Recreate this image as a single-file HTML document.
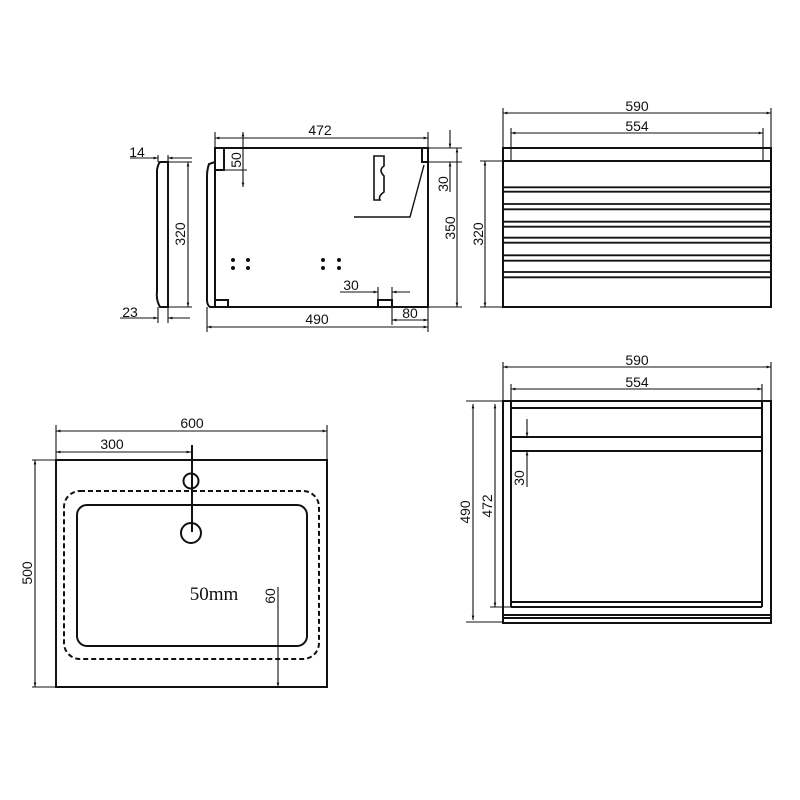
<!DOCTYPE html>
<html><head><meta charset="utf-8"><style>
html,body{margin:0;padding:0;background:#fff}
svg{display:block}
text{font-family:"Liberation Sans",sans-serif;font-size:14px;fill:#111}
</style></head><body>
<svg width="800" height="800" viewBox="0 0 800 800" xmlns="http://www.w3.org/2000/svg">
<defs>
<marker id="a" viewBox="0 0 10 10" refX="10" refY="5" markerWidth="6" markerHeight="4" orient="auto-start-reverse"><path d="M0,2 L10,5 L0,8 z" fill="#111"/></marker>
</defs>
<g stroke="#111" fill="none" stroke-width="2">
<path d="M168,162 L168,307 L160,307 Q156,300 157,292 L157,170 Q158,164 160,162 Z"/>
<g stroke-width="1.1">
<line x1="158" y1="162" x2="192" y2="162"/>
<line x1="168" y1="307" x2="192" y2="307"/>
<line x1="188" y1="162" x2="188" y2="307" marker-start="url(#a)" marker-end="url(#a)"/>
<line x1="130" y1="158" x2="158" y2="158" marker-end="url(#a)"/>
<line x1="168" y1="158" x2="192" y2="158" marker-start="url(#a)"/>
<line x1="158" y1="155" x2="158" y2="162"/><line x1="168" y1="155" x2="168" y2="162"/>
<line x1="120" y1="318" x2="158" y2="318" marker-end="url(#a)"/>
<line x1="168" y1="318" x2="190" y2="318" marker-start="url(#a)"/>
<line x1="158" y1="307" x2="158" y2="323"/><line x1="168" y1="307" x2="168" y2="323"/>
</g>

<rect x="215" y="148" width="213" height="159"/>
<path d="M215,162 L209,164 Q207,170 207,176 L207,300 Q207,305 210,307 L215,307"/>
<rect x="215" y="148" width="9" height="22"/>
<rect x="422" y="148" width="6" height="14"/>
<rect x="215" y="300" width="13" height="7"/>
<rect x="378" y="300" width="14" height="7"/>
<path d="M374,156 L384,156 L384,166 Q378,170 384,176 L384,192 Q378,196 380,200 L374,200 Z" stroke-width="1.6"/>
<polyline points="424,165 410,217 354,217" stroke-width="1.4"/>
<g stroke-width="1.1">
<line x1="215" y1="138" x2="428" y2="138" marker-start="url(#a)" marker-end="url(#a)"/>
<line x1="215" y1="132" x2="215" y2="148"/><line x1="428" y1="132" x2="428" y2="148"/>
<line x1="243" y1="132" x2="243" y2="187" marker-start="url(#a)" marker-end="url(#a)"/>
<line x1="224" y1="170" x2="247" y2="170"/>
<line x1="428" y1="162" x2="462" y2="162"/>
<line x1="428" y1="148" x2="462" y2="148"/>
<line x1="428" y1="307" x2="462" y2="307"/>
<line x1="450" y1="130" x2="450" y2="148" marker-end="url(#a)"/>
<line x1="450" y1="162" x2="450" y2="192" marker-start="url(#a)"/>
<line x1="457" y1="148" x2="457" y2="307" marker-start="url(#a)" marker-end="url(#a)"/>
<line x1="340" y1="292" x2="378" y2="292" marker-end="url(#a)"/>
<line x1="392" y1="292" x2="410" y2="292" marker-start="url(#a)"/>
<line x1="378" y1="287" x2="378" y2="300"/><line x1="392" y1="287" x2="392" y2="300"/>
<line x1="207" y1="307" x2="207" y2="332"/><line x1="428" y1="307" x2="428" y2="332"/>
<line x1="392" y1="307" x2="392" y2="325"/>
<line x1="207" y1="327" x2="428" y2="327" marker-start="url(#a)" marker-end="url(#a)"/>
<line x1="392" y1="320" x2="428" y2="320" marker-start="url(#a)" marker-end="url(#a)"/>
</g>

<rect x="503" y="148" width="268" height="13"/>
<rect x="503" y="161" width="268" height="146"/>
<g stroke-width="1.8">
<line x1="503" y1="187.3" x2="771" y2="187.3"/><line x1="503" y1="191.7" x2="771" y2="191.7"/>
<line x1="503" y1="204" x2="771" y2="204"/><line x1="503" y1="209.3" x2="771" y2="209.3"/>
<line x1="503" y1="221.7" x2="771" y2="221.7"/><line x1="503" y1="226.7" x2="771" y2="226.7"/>
<line x1="503" y1="237.7" x2="771" y2="237.7"/><line x1="503" y1="242.7" x2="771" y2="242.7"/>
<line x1="503" y1="255.3" x2="771" y2="255.3"/><line x1="503" y1="260.7" x2="771" y2="260.7"/>
<line x1="503" y1="272" x2="771" y2="272"/><line x1="503" y1="277.3" x2="771" y2="277.3"/>
</g>
<g stroke-width="1.1">
<line x1="503" y1="108" x2="503" y2="148"/><line x1="771" y1="108" x2="771" y2="148"/>
<line x1="511" y1="128" x2="511" y2="161"/><line x1="763" y1="128" x2="763" y2="161"/>
<line x1="503" y1="113" x2="771" y2="113" marker-start="url(#a)" marker-end="url(#a)"/>
<line x1="511" y1="133" x2="763" y2="133" marker-start="url(#a)" marker-end="url(#a)"/>
<line x1="480" y1="161" x2="503" y2="161"/><line x1="480" y1="307" x2="503" y2="307"/>
<line x1="485" y1="161" x2="485" y2="307" marker-start="url(#a)" marker-end="url(#a)"/>
</g>

<rect x="503" y="401" width="268" height="222"/>
<line x1="511" y1="401" x2="511" y2="607"/><line x1="762" y1="401" x2="762" y2="607"/>
<line x1="511" y1="408" x2="762" y2="408"/>
<line x1="511" y1="437" x2="762" y2="437"/>
<line x1="511" y1="451" x2="762" y2="451"/>
<line x1="511" y1="602" x2="762" y2="602"/>
<line x1="511" y1="607" x2="762" y2="607"/>
<line x1="503" y1="615" x2="771" y2="615"/>
<line x1="503" y1="618" x2="771" y2="618"/>
<g stroke-width="1.1">
<line x1="503" y1="362" x2="503" y2="401"/><line x1="771" y1="362" x2="771" y2="401"/>
<line x1="511" y1="384" x2="511" y2="401"/><line x1="762" y1="384" x2="762" y2="401"/>
<line x1="503" y1="367" x2="771" y2="367" marker-start="url(#a)" marker-end="url(#a)"/>
<line x1="511" y1="389" x2="762" y2="389" marker-start="url(#a)" marker-end="url(#a)"/>
<line x1="527" y1="419" x2="527" y2="437" marker-end="url(#a)"/>
<line x1="527" y1="451" x2="527" y2="487" marker-start="url(#a)"/>
<line x1="466" y1="401" x2="503" y2="401"/>
<line x1="466" y1="622" x2="503" y2="622"/>
<line x1="490" y1="607" x2="511" y2="607"/>
<line x1="495" y1="404" x2="495" y2="607" marker-start="url(#a)" marker-end="url(#a)"/>
<line x1="473" y1="404" x2="473" y2="620" marker-start="url(#a)" marker-end="url(#a)"/>
</g>

<rect x="56" y="460" width="271" height="227"/>
<rect x="64" y="491" width="255" height="168" rx="16" stroke-dasharray="5,3"/>
<rect x="77" y="505" width="230" height="141" rx="10"/>
<circle cx="191" cy="481" r="7.5"/>
<circle cx="191" cy="533" r="10"/>
<line x1="192" y1="445" x2="192" y2="532"/>
<g stroke-width="1.1">
<line x1="56" y1="425" x2="56" y2="460"/><line x1="327" y1="425" x2="327" y2="460"/>
<line x1="56" y1="431" x2="327" y2="431" marker-start="url(#a)" marker-end="url(#a)"/>
<line x1="56" y1="452" x2="191" y2="452" marker-start="url(#a)" marker-end="url(#a)"/>
<line x1="32" y1="460" x2="56" y2="460"/><line x1="32" y1="687" x2="56" y2="687"/>
<line x1="35" y1="460" x2="35" y2="687" marker-start="url(#a)" marker-end="url(#a)"/>
<line x1="278" y1="587" x2="278" y2="687" marker-end="url(#a)"/>
</g>
</g>
<g fill="#111">
<circle cx="233" cy="260" r="2"/><circle cx="248" cy="260" r="2"/><circle cx="233" cy="268" r="2"/><circle cx="248" cy="268" r="2"/>
<circle cx="323" cy="260" r="2"/><circle cx="339" cy="260" r="2"/><circle cx="323" cy="268" r="2"/><circle cx="339" cy="268" r="2"/>
</g>
<text x="137" y="157" text-anchor="middle">14</text>
<text x="130" y="317" text-anchor="middle">23</text>
<text transform="translate(185,234) rotate(-90)" text-anchor="middle">320</text>
<text x="320" y="135" text-anchor="middle">472</text>
<text transform="translate(241,160) rotate(-90)" text-anchor="middle">50</text>
<text transform="translate(448,184) rotate(-90)" text-anchor="middle">30</text>
<text transform="translate(455,228) rotate(-90)" text-anchor="middle">350</text>
<text x="351" y="290" text-anchor="middle">30</text>
<text x="317" y="324" text-anchor="middle">490</text>
<text x="410" y="318" text-anchor="middle">80</text>
<text x="637" y="111" text-anchor="middle">590</text>
<text x="637" y="131" text-anchor="middle">554</text>
<text transform="translate(483,234) rotate(-90)" text-anchor="middle">320</text>
<text x="637" y="365" text-anchor="middle">590</text>
<text x="637" y="387" text-anchor="middle">554</text>
<text transform="translate(524,478) rotate(-90)" text-anchor="middle">30</text>
<text transform="translate(492,506) rotate(-90)" text-anchor="middle">472</text>
<text transform="translate(470,512) rotate(-90)" text-anchor="middle">490</text>
<text x="192" y="428" text-anchor="middle">600</text>
<text x="112" y="449" text-anchor="middle">300</text>
<text transform="translate(32,573) rotate(-90)" text-anchor="middle">500</text>
<text transform="translate(275,596) rotate(-90)" text-anchor="middle">60</text>
<text x="214" y="600" text-anchor="middle" style="font-family:'Liberation Serif',serif;font-size:19px">50mm</text>
</svg>
</body></html>
